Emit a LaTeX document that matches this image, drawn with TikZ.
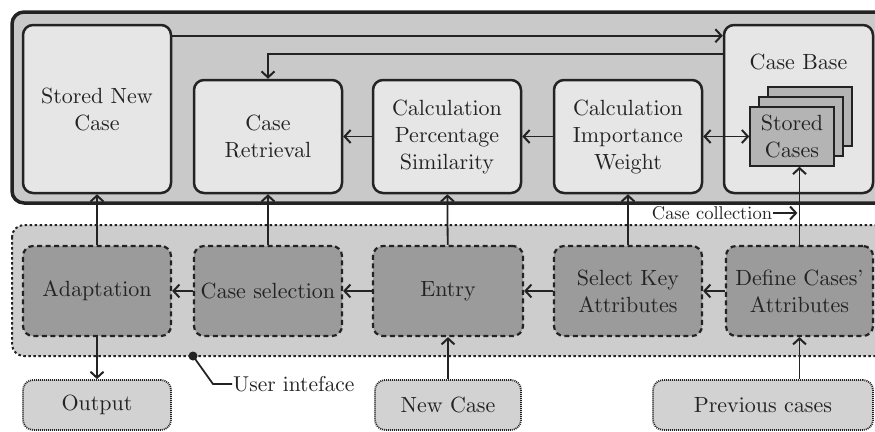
\documentclass[tikz,border=0pt]{standalone}
\usetikzlibrary{arrows.meta,shadows}

\font\figrm=cmr10 at 22pt
\font\notefont=cmr10 at 18.5pt
\font\uifont=cmr10 at 21.5pt

\definecolor{framebg}{HTML}{C9C9C9}
\definecolor{boxbg}{HTML}{E6E6E6}
\definecolor{stackbg}{HTML}{B4B4B4}
\definecolor{uibg}{HTML}{CDCDCD}
\definecolor{stepbg}{HTML}{9B9B9B}
\definecolor{iobg}{HTML}{D2D2D2}
\definecolor{ink}{HTML}{232323}

\begin{document}
\begin{tikzpicture}[x=1pt, y=-1pt,
    >={Straight Barb[length=6pt,width=13pt,line width=2pt]},
    every node/.style={font=\fontsize{22}{27}\selectfont\figrm, align=center, text=ink},
    frame/.style={draw=ink, line width=3.5pt, fill=framebg, rounded corners=12pt},
    uiframe/.style={draw=ink, line width=2pt, dash pattern=on 2.5pt off 2.5pt, fill=uibg, rounded corners=12pt},
    procbox/.style={draw=ink, line width=2.5pt, fill=boxbg, rounded corners=10pt, minimum width=148pt, inner sep=2pt},
    stepbox/.style={draw=ink, line width=2.2pt, dash pattern=on 5pt off 3.5pt, fill=stepbg, rounded corners=10pt, minimum width=148pt, minimum height=90pt, inner sep=2pt},
    iobox/.style={draw=ink, line width=1.8pt, dash pattern=on 1pt off 1pt, fill=iobg, rounded corners=10pt, minimum height=50pt, inner sep=2pt},
    conn/.style={draw=ink, line width=1.8pt}]
  \useasboundingbox (0,0) rectangle (875,431);

  \draw[frame] (12,12) rectangle (890,203);
  \draw[uiframe] (12,225) rectangle (890,356);

  \node[procbox, minimum height=168pt] (storednew) at (97,109) {Stored New\\Case};
  \node[procbox, minimum height=113pt] (retrieval) at (268,136.5) {Case\\Retrieval};
  \node[procbox, minimum height=113pt] (similarity) at (447,136.5) {Calculation\\Percentage\\Similarity};
  \node[procbox, minimum height=113pt] (weight) at (628,136.5) {Calculation\\Importance\\Weight};
  \node[procbox, minimum width=149pt, minimum height=168pt] (casebase) at (798.5,109) {};
  \node (cbtitle) at (798.5,62) {Case Base};
  \node[draw=ink, line width=1.5pt, fill=stackbg, minimum width=84pt, minimum height=59pt, inner sep=1pt,
        double copy shadow={shadow xshift=9pt, shadow yshift=10pt, draw=ink, line width=1.5pt, fill=stackbg}]
        (stored) at (792,136.5) {Stored\\Cases};

  \node[stepbox] (adapt) at (97,291) {Adaptation};
  \node[stepbox] (selection) at (268,291) {Case selection};
  \node[stepbox, minimum width=150pt] (entry) at (448,291) {Entry};
  \node[stepbox] (keyattr) at (628,291) {Select Key\\Attributes};
  \node[stepbox, minimum width=147pt] (define) at (799.5,291) {Define Cases'\\Attributes};

  \node[iobox, minimum width=148pt] (output) at (97,405) {Output};
  \node[iobox, minimum width=146pt] (newcase) at (448,405) {New Case};
  \node[iobox, minimum width=220pt] (previous) at (763,405) {Previous cases};

  \draw[conn, ->] ([yshift=-12pt]storednew.north east) -- ([yshift=-12pt]storednew.north east -| casebase.west);
  \draw[conn, ->] ([yshift=-30pt]casebase.north west) -| (retrieval.north);
  \draw[conn, ->] (similarity) -- (retrieval);
  \draw[conn, ->] (weight) -- (similarity);
  \draw[conn, <->] (weight) -- (stored);

  \draw[conn, ->] (adapt) -- (storednew);
  \draw[conn, ->] (selection) -- (retrieval);
  \draw[conn, ->] (entry) -- (similarity);
  \draw[conn, ->] (keyattr) -- (weight);
  \draw[conn, ->] (define.north) -- (define.north |- stored.south);

  \draw[conn, ->] (selection) -- (adapt);
  \draw[conn, ->] (entry) -- (selection);
  \draw[conn, ->] (keyattr) -- (entry);
  \draw[conn, ->] (define) -- (keyattr);

  \draw[conn, ->] (adapt) -- (output);
  \draw[conn, ->] (newcase) -- (entry);
  \draw[conn, ->] (define.south |- previous.north) -- (define.south);

  \node[font=\notefont, inner sep=1pt] (collect) at (712,213) {Case collection};
  \draw[conn, ->] (collect.east) -- ++(24,0);

  \coordinate (uidot) at (193,356);
  \node[font=\uifont, anchor=west, inner sep=1pt] (uilabel) at (232,384) {User inteface};
  \fill[ink] (uidot) circle (4.5pt);
  \draw[conn] (uidot) -- ++(20,28) -- (uilabel.west);
\end{tikzpicture}
\end{document}
